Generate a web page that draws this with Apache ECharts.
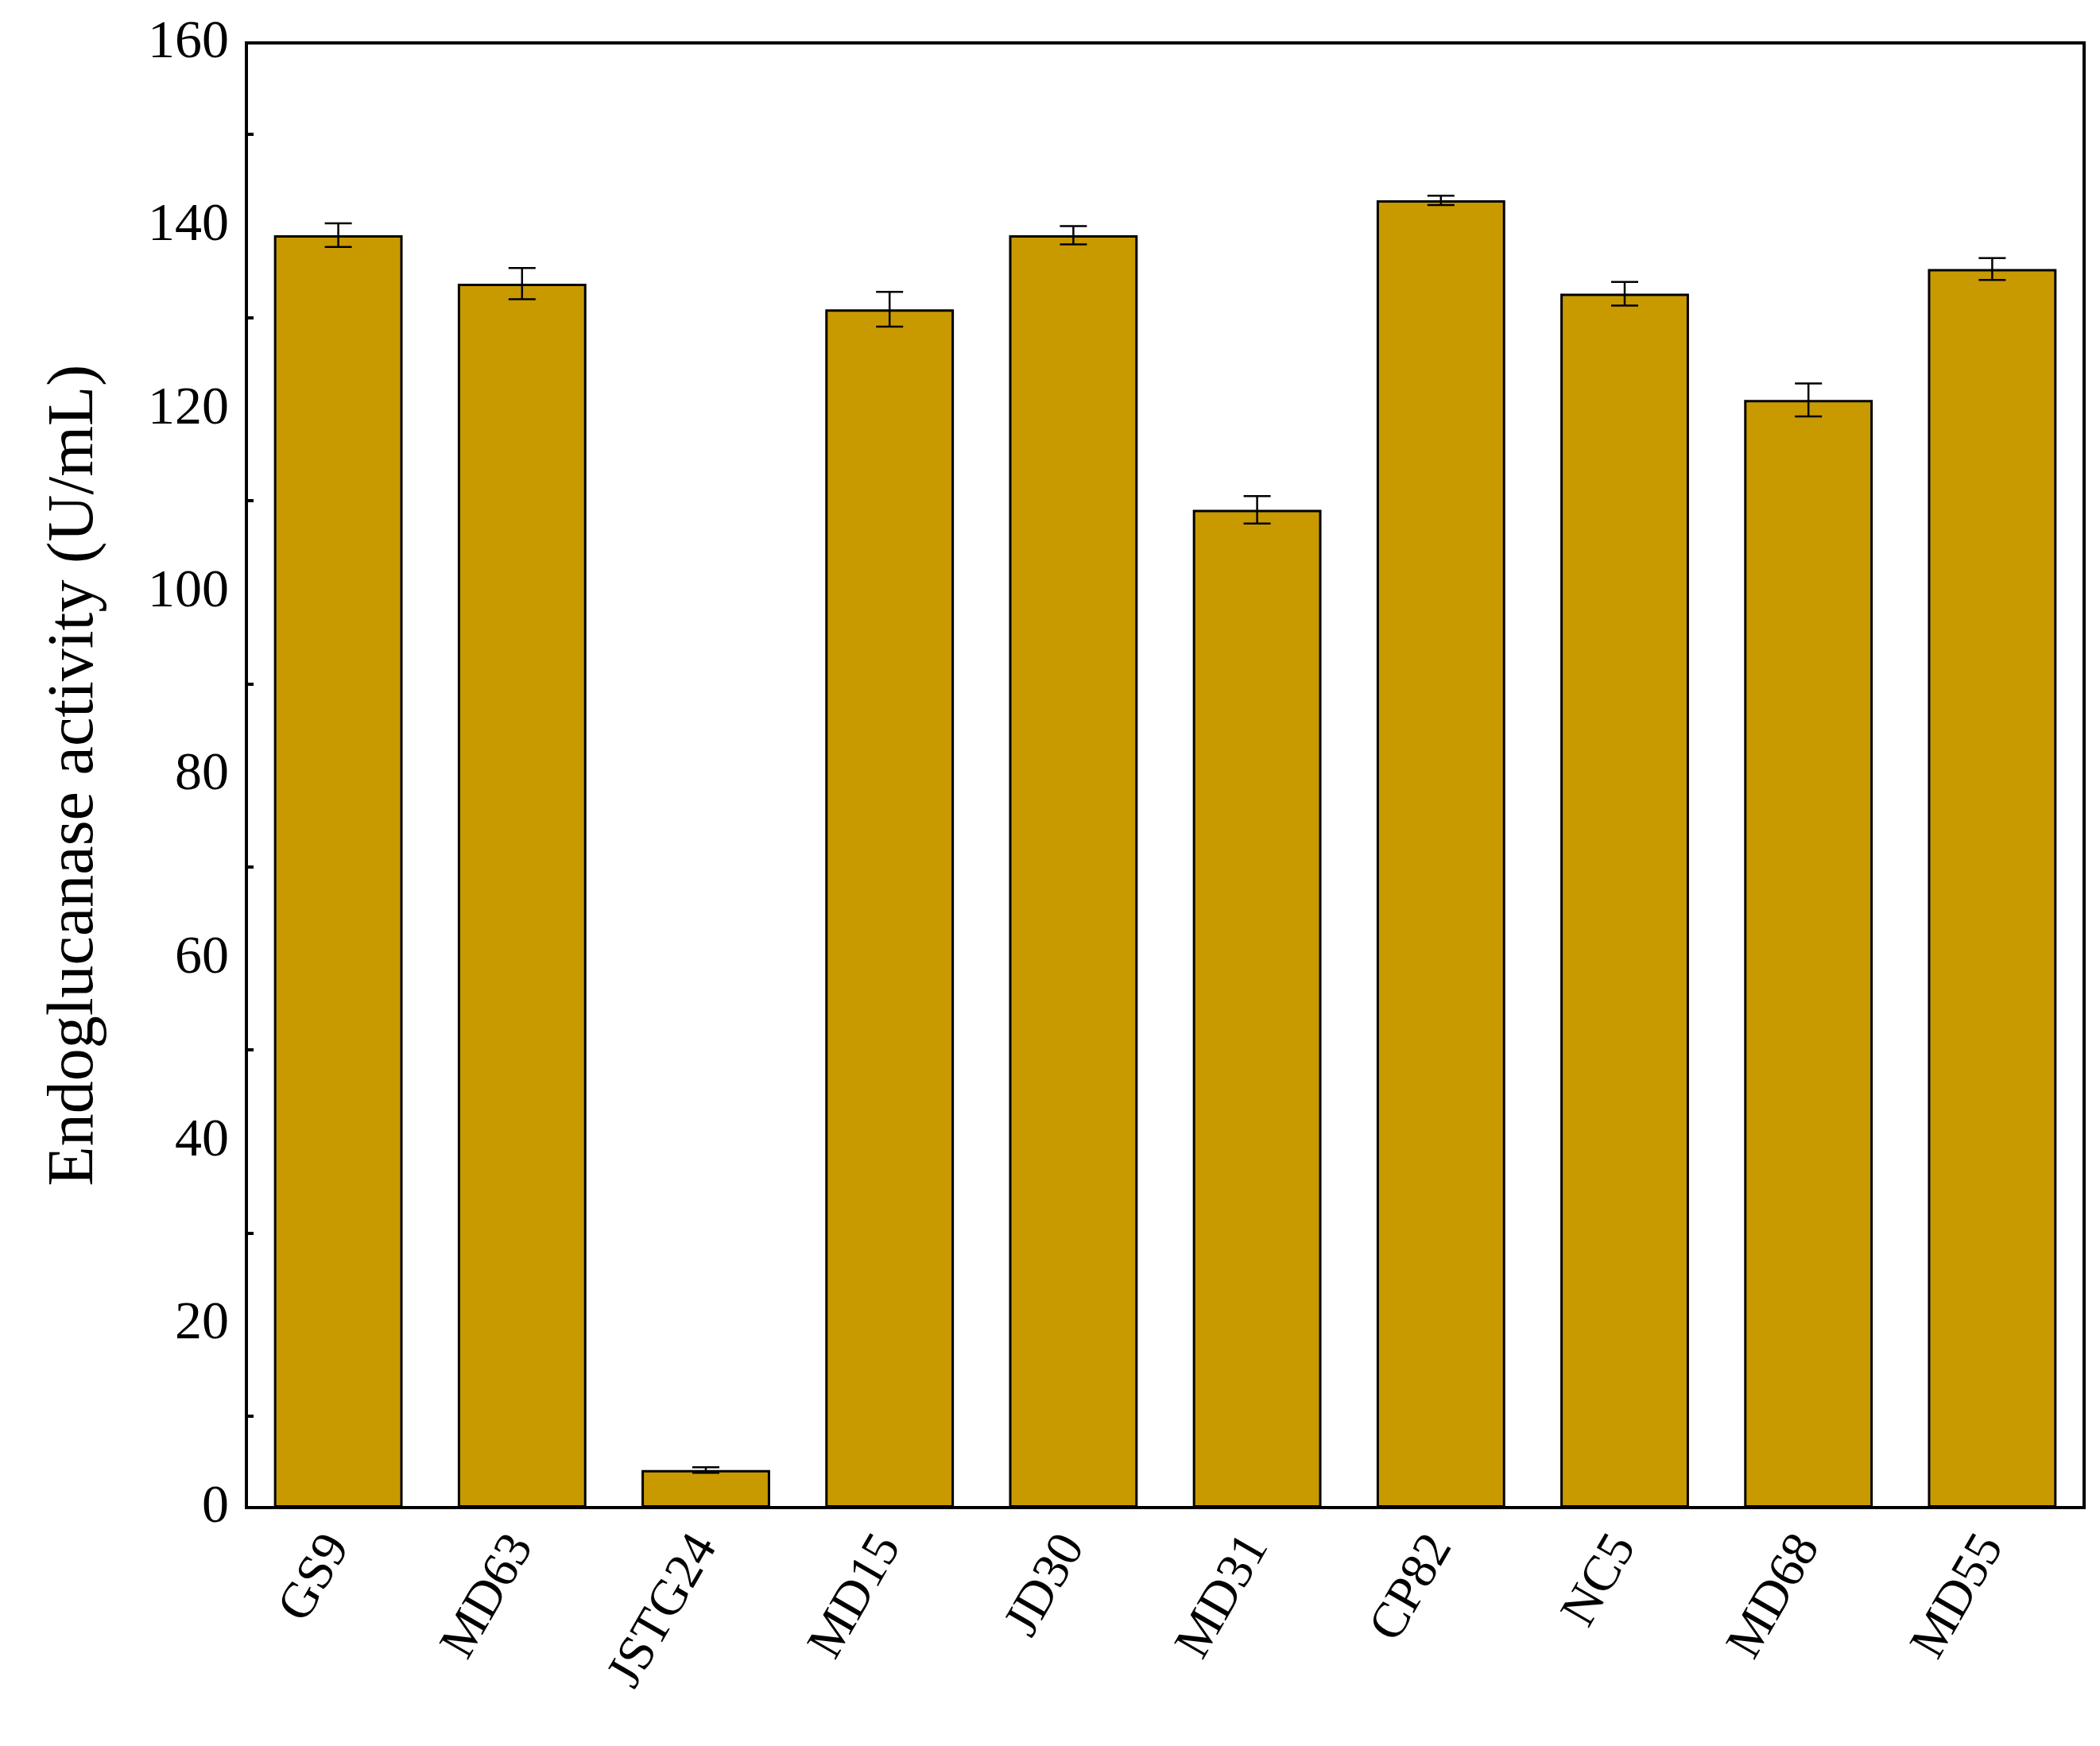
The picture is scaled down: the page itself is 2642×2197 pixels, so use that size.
<!DOCTYPE html>
<html lang="en">
<head>
    <meta charset="UTF-8">
    <title>echarts</title>
    <script src="https://cdn.jsdelivr.net/npm/echarts/dist/echarts.min.js"></script>
</head>
<body style="margin:0">
<div id="main" style="width: 2642px;height:2197px;"></div>
<script type="text/javascript">
    var categories = ['GS9', 'MD63', 'JSTG24', 'MD15', 'JD30', 'MD31', 'CP82', 'NC5', 'MD68', 'MD55'];
    var values = [139.0, 133.7, 4.1, 130.9, 139.0, 109.0, 142.8, 132.6, 121.0, 135.3];
    var errors = [1.3, 1.7, 0.3, 1.9, 1.0, 1.5, 0.5, 1.3, 1.8, 1.2];

    var chart = echarts.init(document.getElementById('main'));
    var font = 'Liberation Serif';

    chart.setOption({
        animation: false,
        backgroundColor: '#fff',
        grid: { left: 310, right: 20, top: 54, bottom: 300, show: true, borderColor: '#000', borderWidth: 4 },
        xAxis: {
            type: 'category',
            data: categories,
            axisLine: { lineStyle: { color: '#000', width: 4 } },
            axisTick: { show: false },
            axisLabel: { rotate: 60, color: '#000', fontFamily: font, fontSize: 64, margin: 40 }
        },
        yAxis: {
            type: 'value',
            min: 0, max: 160, interval: 20,
            name: 'Endoglucanase activity (U/mL)',
            nameLocation: 'middle',
            nameGap: 175,
            nameTextStyle: { color: '#000', fontFamily: font, fontSize: 82 },
            splitLine: { show: false },
            axisLine: { show: true, lineStyle: { color: '#000', width: 4 } },
            axisTick: { inside: true, length: 16, lineStyle: { width: 4 } },
            minorTick: { show: true, splitNumber: 2, length: 9, lineStyle: { color: '#000', width: 4 } },
            axisLabel: { color: '#000', fontFamily: font, fontSize: 68, margin: 22 }
        },
        series: [
            {
                type: 'bar',
                data: values,
                barWidth: '70%',
                itemStyle: { color: '#C99A00', borderColor: '#000', borderWidth: 3 }
            },
            {
                type: 'custom',
                data: values.map(function (v, i) { return [i, v - errors[i], v + errors[i]]; }),
                renderItem: function (params, api) {
                    var lo = api.coord([api.value(0), api.value(1)]);
                    var hi = api.coord([api.value(0), api.value(2)]);
                    var w = 17;
                    var st = { stroke: '#000', lineWidth: 2.5 };
                    return {
                        type: 'group',
                        children: [
                            { type: 'line', shape: { x1: hi[0], y1: hi[1], x2: lo[0], y2: lo[1] }, style: st },
                            { type: 'line', shape: { x1: hi[0] - w, y1: hi[1], x2: hi[0] + w, y2: hi[1] }, style: st },
                            { type: 'line', shape: { x1: lo[0] - w, y1: lo[1], x2: lo[0] + w, y2: lo[1] }, style: st }
                        ]
                    };
                },
                z: 10
            }
        ]
    });
</script>
</body>
</html>
